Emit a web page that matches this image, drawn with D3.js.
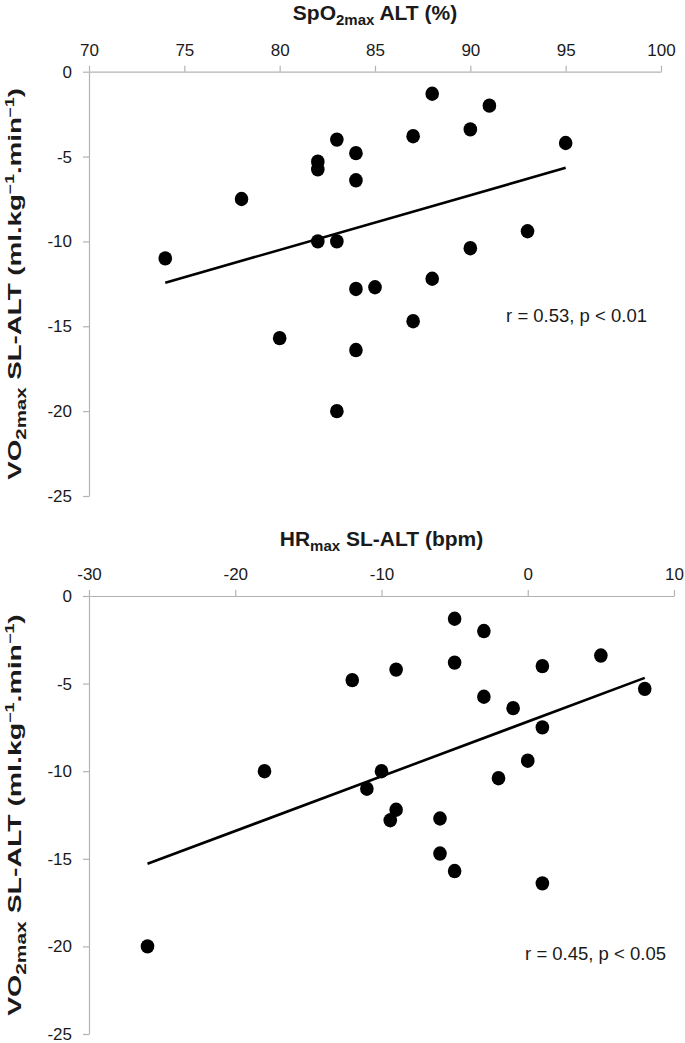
<!DOCTYPE html>
<html><head><meta charset="utf-8">
<script src="https://cdn.jsdelivr.net/npm/d3@7"></script>
<style>
html,body{margin:0;padding:0;background:#fff;}
svg{display:block;}
text{font-family:"Liberation Sans",Arial,sans-serif;fill:#1a1a1a;}
</style></head><body>
<svg id="chart" width="685" height="1043"></svg>
<script>
// ---- data ----
const spo2Ticks = [70, 75, 80, 85, 90, 95, 100];
const hrTicks = [-30, -20, -10, 0, 10];
const vo2Ticks = [0, -5, -10, -15, -20, -25];

const spo2 = [74, 78, 80, 82, 82, 82, 83, 83, 83, 84, 84, 84, 84, 85, 87, 87, 88, 88, 90, 90, 91, 93, 95];
const vo2BySpo2 = [-11.0, -7.5, -15.7, -5.3, -5.75, -10.0, -4.0, -10.0, -20.0, -4.8, -6.4, -12.8, -16.4, -12.7, -3.8, -14.7, -1.3, -12.2, -3.4, -10.4, -2.0, -9.4, -4.2];

const hrDiff = [-26, -18, -12, -11, -10, -9.4, -9, -9, -6, -6, -5, -5, -5, -3, -3, -2, -1, 0, 1, 1, 1, 5, 8];
const vo2ByHr = [-20.0, -10.0, -4.8, -11.0, -10.0, -12.8, -12.2, -4.2, -12.7, -14.7, -1.3, -3.8, -15.7, -2.0, -5.75, -10.4, -6.4, -9.4, -4.0, -7.5, -16.4, -3.4, -5.3];

const statsTop = "r = 0.53, p < 0.01";
const statsBottom = "r = 0.45, p < 0.05";

// ---- drawing ----
const svg = d3.select("#chart");
const axisColor = "#b3b3b3";

const yTitleParts = [
  {t: "VO"}, {t: "2max", sub: true}, {t: " SL-ALT (ml.kg"}, {t: "\u22121", sup: true},
  {t: ".min"}, {t: "\u22121", sup: true}, {t: ")"}
];

const panels = [
  {
    xs: spo2, ys: vo2BySpo2, xDomain: [70, 100], xTicks: spo2Ticks,
    box: {l: 89, r: 661, t: 71.7, b: 496},
    title: [{t: "SpO"}, {t: "2max", sub: true}, {t: " ALT (%)"}],
    titleY: 20, stats: statsTop, statsX: 647, statsY: 321.5,
    yTitleLen: 392
  },
  {
    xs: hrDiff, ys: vo2ByHr, xDomain: [-30, 10], xTicks: hrTicks,
    box: {l: 89, r: 674, t: 596, b: 1034},
    title: [{t: "HR"}, {t: "max", sub: true}, {t: " SL-ALT (bpm)"}],
    titleY: 546, stats: statsBottom, statsX: 666, statsY: 959.5,
    yTitleLen: 402
  }
];

function richText(textSel, parts, subSize, supSize) {
  parts.forEach((p, i) => {
    const ts = textSel.append("tspan").text(p.t);
    if (p.sub) { ts.attr("font-size", subSize).attr("dy", 4.5); }
    else if (p.sup) { ts.attr("font-size", supSize).attr("dy", -7); }
    const prev = parts[i - 1];
    if (!p.sub && !p.sup && prev) {
      if (prev.sub) ts.attr("dy", -4.5);
      if (prev.sup) ts.attr("dy", 7);
    }
  });
}

panels.forEach(P => {
  const x = d3.scaleLinear().domain(P.xDomain).range([P.box.l, P.box.r]);
  const y = d3.scaleLinear().domain([0, -25]).range([P.box.t, P.box.b]);
  const g = svg.append("g");

  // x axis (top)
  const xa = g.append("g").attr("transform", `translate(0,${P.box.t})`)
    .call(d3.axisTop(x).tickValues(P.xTicks).tickSize(6).tickSizeOuter(0).tickPadding(10).tickFormat(d => String(d)));
  // y axis (left)
  const ya = g.append("g").attr("transform", `translate(${P.box.l},0)`)
    .call(d3.axisLeft(y).tickValues(vo2Ticks).tickSize(6).tickSizeOuter(0).tickPadding(11).tickFormat(d => String(d)));
  [xa, ya].forEach(a => {
    a.attr("font-family", null).attr("font-size", null);
    a.select(".domain").attr("stroke", axisColor).attr("stroke-width", 1.2);
    a.selectAll(".tick line").attr("stroke", axisColor).attr("stroke-width", 1.2);
    a.selectAll(".tick text").attr("font-size", 17).attr("fill", "#1a1a1a");
  });

  // title
  const tt = g.append("text").attr("x", (P.box.l + P.box.r) / 2).attr("y", P.titleY)
    .attr("text-anchor", "middle").attr("font-weight", "bold").attr("font-size", 21);
  richText(tt, P.title, 15, 13);

  // y title (rotated, stretched along its length)
  const cy = (P.box.t + P.box.b) / 2;
  const yg = g.append("g");
  const yt = yg.append("text").attr("text-anchor", "middle").attr("font-weight", "bold").attr("font-size", 19);
  richText(yt, yTitleParts, 14, 12);
  const w = yt.node().getBBox().width;
  const k = P.yTitleLen / w;
  yg.attr("transform", `translate(21,${cy}) rotate(-90) scale(${k},1)`);

  // trend line (least squares)
  const n = P.xs.length;
  const mx = d3.mean(P.xs), my = d3.mean(P.ys);
  let sxy = 0, sxx = 0;
  for (let i = 0; i < n; i++) { sxy += (P.xs[i] - mx) * (P.ys[i] - my); sxx += (P.xs[i] - mx) ** 2; }
  const slope = sxy / sxx, icpt = my - slope * mx;
  const [x0, x1] = d3.extent(P.xs);
  g.append("line")
    .attr("x1", x(x0)).attr("y1", y(icpt + slope * x0))
    .attr("x2", x(x1)).attr("y2", y(icpt + slope * x1))
    .attr("stroke", "#000").attr("stroke-width", 2.6);

  // points
  g.append("g").selectAll("ellipse").data(d3.range(n)).join("ellipse")
    .attr("cx", i => x(P.xs[i])).attr("cy", i => y(P.ys[i]))
    .attr("rx", 6.8).attr("ry", 7.2).attr("fill", "#000");

  // stats
  g.append("text").attr("x", P.statsX).attr("y", P.statsY).attr("text-anchor", "end")
    .attr("font-size", 18.5).text(P.stats);
});
</script>
</body></html>
